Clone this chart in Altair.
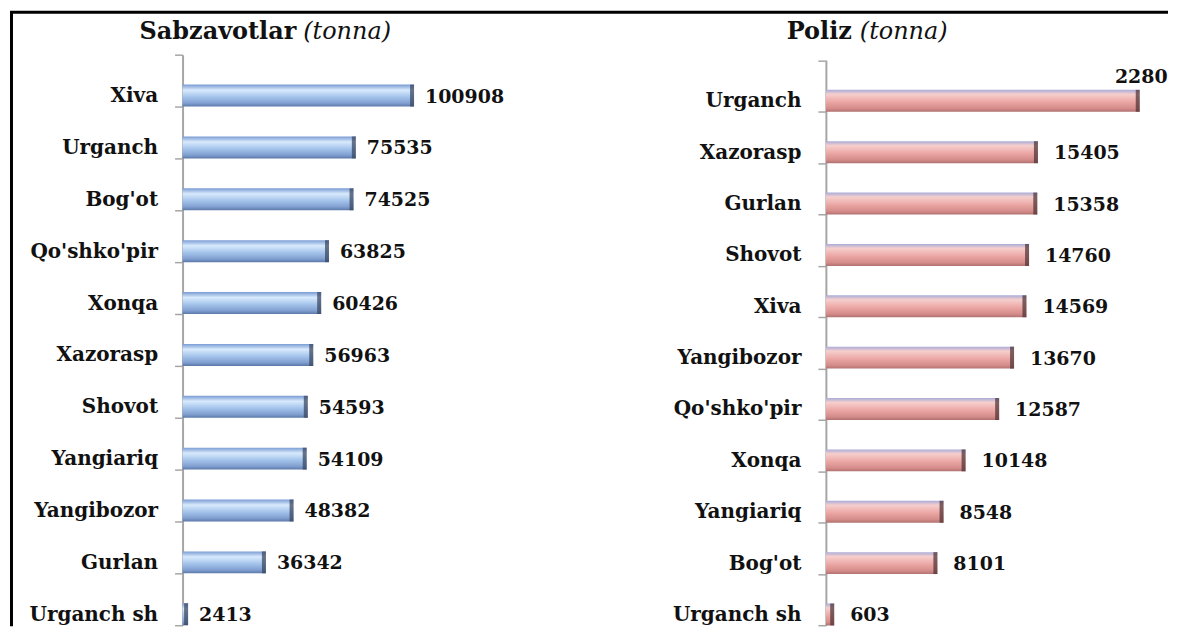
import altair as alt
import pandas as pd

# ---- data ----
veg_cats = ["Xiva", "Urganch", "Bog'ot", "Qo'shko'pir", "Xonqa", "Xazorasp",
            "Shovot", "Yangiariq", "Yangibozor", "Gurlan", "Urganch sh"]
veg_vals = [100908, 75535, 74525, 63825, 60426, 56963, 54593, 54109, 48382, 36342, 2413]
veg_labels = ["100908", "75535", "74525", "63825", "60426", "56963",
              "54593", "54109", "48382", "36342", "2413"]

pol_cats = ["Urganch", "Xazorasp", "Gurlan", "Shovot", "Xiva", "Yangibozor",
            "Qo'shko'pir", "Xonqa", "Yangiariq", "Bog'ot", "Urganch sh"]
pol_vals = [22800, 15405, 15358, 14760, 14569, 13670, 12587, 10148, 8548, 8101, 603]
pol_labels = ["2280", "15405", "15358", "14760", "14569", "13670",
              "12587", "10148", "8548", "8101", "603"]

titles_bold = ["Sabzavotlar", "Poliz"]
titles_unit = ["(tonna)", "(tonna)"]

FONT = "DejaVu Serif"
CAT_FS = 20
VAL_FS = 19
TITLE_FS = 24

left_df = pd.DataFrame({"cat": veg_cats, "val": veg_vals, "lab": veg_labels})
right_df = pd.DataFrame({"cat": pol_cats, "val": pol_vals, "lab": pol_labels})
one = pd.DataFrame({"k": [0]})

blue_grad = alt.Gradient(
    gradient="linear", x1=0, y1=0, x2=0, y2=1,
    stops=[alt.GradientStop(color="#7a9cd4", offset=0),
           alt.GradientStop(color="#d8eafc", offset=0.25),
           alt.GradientStop(color="#a6c5ec", offset=0.55),
           alt.GradientStop(color="#809fd0", offset=0.85),
           alt.GradientStop(color="#5a78a8", offset=1)])
pink_grad = alt.Gradient(
    gradient="linear", x1=0, y1=0, x2=0, y2=1,
    stops=[alt.GradientStop(color="#a9acd8", offset=0),
           alt.GradientStop(color="#f6cfcd", offset=0.2),
           alt.GradientStop(color="#eba7a5", offset=0.55),
           alt.GradientStop(color="#d48c8a", offset=0.85),
           alt.GradientStop(color="#b07170", offset=1)])


def panel(df, cats, xmax, width, grad, cap, yscale, title_b, title_u, tb_x, tu_x,
          special_first=False):
    y = alt.Y("cat:N", sort=cats, scale=yscale,
              axis=alt.Axis(title=None, tickBand="extent", labelOffset=15,
                            domainColor="#a6a6a6", domainWidth=2,
                            tickColor="#a6a6a6", tickWidth=1.5, tickSize=8,
                            labelPadding=17, labelFont=FONT, labelFontSize=CAT_FS,
                            labelFontWeight="bold", labelColor="#111111"))
    x = alt.X("val:Q", scale=alt.Scale(domain=[0, xmax]), axis=None)
    base = alt.Chart(df).encode(y=y, x=x)
    bars = base.mark_bar(color=grad, size=22, yOffset=15, cornerRadius=0)
    caps = base.mark_tick(color=cap, orient="vertical", size=22, thickness=4,
                          yOffset=15, xOffset=-2)
    if special_first:
        normal = base.transform_filter(alt.datum.cat != cats[0])
        first = base.transform_filter(alt.datum.cat == cats[0])
        texts = normal.mark_text(align="left", baseline="middle", dx=16, yOffset=16,
                                 font=FONT, fontSize=VAL_FS, fontWeight="bold",
                                 color="#111111").encode(text="lab:N")
        t_first = first.mark_text(align="right", baseline="middle", dx=28, yOffset=-9,
                                  font=FONT, fontSize=VAL_FS, fontWeight="bold",
                                  color="#111111").encode(text="lab:N")
        texts = texts + t_first
    else:
        texts = base.mark_text(align="left", baseline="middle", dx=11, yOffset=16,
                               font=FONT, fontSize=VAL_FS, fontWeight="bold",
                               color="#111111").encode(text="lab:N")
    tb = alt.Chart(pd.DataFrame({"t": [title_b]})).mark_text(
        align="right", baseline="middle", font=FONT, fontSize=TITLE_FS,
        fontWeight="bold", color="#111111").encode(
        text="t:N", x=alt.value(tb_x), y=alt.value(-23))
    tu = alt.Chart(pd.DataFrame({"t": [title_u]})).mark_text(
        align="left", baseline="middle", font=FONT, fontSize=TITLE_FS,
        fontStyle="italic", color="#111111").encode(
        text="t:N", x=alt.value(tu_x), y=alt.value(-23))
    return alt.layer(bars, caps, texts, tb, tu).properties(width=width, height=572)


left = panel(left_df, veg_cats, 120000, 276, blue_grad, "#35405a",
             alt.Scale(paddingInner=0, paddingOuter=0),
             titles_bold[0], titles_unit[0], 114, 121)

frame_v = alt.Chart(one).mark_rule(color="#000000", strokeWidth=3).encode(
    x=alt.value(-171.5), y=alt.value(-43), y2=alt.value(573))
frame_h = alt.Chart(one).mark_rule(color="#000000", strokeWidth=3).encode(
    x=alt.value(-173), x2=alt.value(988), y=alt.value(-42.5))
left = alt.layer(left, frame_v, frame_h)

right = panel(right_df, pol_cats, 25000, 345, pink_grad, "#4a2f30",
              alt.Scale(paddingInner=0, paddingOuter=0, range=[5.5, 572]),
              titles_bold[1], titles_unit[1], 26, 34, special_first=True)

chart = alt.hconcat(left, right, spacing=369, bounds="flush").properties(
    padding={"left": 0, "top": 1, "right": 0, "bottom": 0},
    background="white",
).configure_view(stroke=None)

chart.save("out.html", embed_options={"renderer": "svg", "actions": False})
